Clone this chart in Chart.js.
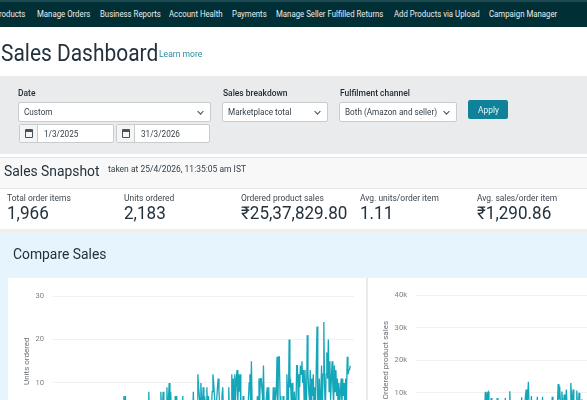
<!DOCTYPE html>
<html><head><meta charset="utf-8">
<script src="https://cdn.jsdelivr.net/npm/chart.js@4"></script>
<style>
html,body{margin:0;padding:0;width:587px;height:400px;overflow:hidden;background:#fff}
#page{position:relative;width:587px;height:400px;overflow:hidden;font-family:Roboto,"Noto Sans",sans-serif;color:#0f1c26;filter:blur(.35px)}
#page div,#page span{position:absolute;white-space:nowrap;box-sizing:border-box}
#page span{transform-origin:0 50%}
.nav{top:8px;font-size:8.5px;line-height:13px;color:#e8eeee;transform:scaleX(.92)}
.lab{font-size:9px;font-weight:500;color:#1f2a33;top:87px;line-height:12px;transform:scaleX(.94)}
.box{background:#fff;border:1px solid #c8cccc;border-radius:2px;font-size:9.2px;color:#333f48;line-height:18px}
.bt{top:0;transform:scaleX(.89)}
.chev{right:7px;top:6px;width:5px;height:5px;border-right:1.2px solid #444;border-bottom:1.2px solid #444;transform:rotate(45deg) scale(.9);transform-origin:50% 50% !important}
.ml{top:192px;font-size:9.4px;color:#3d4750;line-height:12px;transform:scaleX(.9)}
.mv{top:203px;font-size:17.6px;color:#24323e;line-height:21px;transform:scaleX(.97)}
.cal{background:#f4f5f5;border-right:1px solid #c8cccc;left:0;top:0;width:18px;height:100%}
.cal i{position:absolute;left:5px;top:4px;width:8px;height:9px;border:1px solid #48525a;border-top-width:3px;border-radius:1px;box-sizing:border-box}
canvas{position:absolute}
</style></head><body>
<div id="page">
<div style="left:0;top:0;width:587px;height:27px;background:#002f36;border-top:2px solid #1d4a50"></div>
<span class="nav" style="left:-6px">Products</span>
<span class="nav" style="left:37px">Manage Orders</span>
<span class="nav" style="left:100px">Business Reports</span>
<span class="nav" style="left:169px">Account Health</span>
<span class="nav" style="left:232px">Payments</span>
<span class="nav" style="left:276px">Manage Seller Fulfilled Returns</span>
<span class="nav" style="left:394px">Add Products via Upload</span>
<span class="nav" style="left:489px">Campaign Manager</span>

<span style="left:1px;top:37px;font-size:23px;line-height:34px;color:#24323e;transform:scaleX(.91)">Sales Dashboard</span>
<span style="left:159px;top:48px;font-size:9px;line-height:13px;color:#2a8a9b;transform:scaleX(.95)">Learn more</span>

<div style="left:0;top:76px;width:587px;height:78px;background:#e9ebed"></div>
<span class="lab" style="left:18px">Date</span>
<span class="lab" style="left:223px">Sales breakdown</span>
<span class="lab" style="left:340px">Fulfilment channel</span>
<div class="box" style="left:18px;top:102px;width:193px;height:20px"><span class="bt" style="left:5px">Custom</span><span class="chev"></span></div>
<div class="box" style="left:222px;top:102px;width:106px;height:20px"><span class="bt" style="left:5px">Marketplace total</span><span class="chev"></span></div>
<div class="box" style="left:339px;top:102px;width:118px;height:20px"><span class="bt" style="left:5px">Both (Amazon and seller)</span><span class="chev"></span></div>
<div class="box" style="left:19px;top:124px;width:95px;height:19px"><div class="cal"><i></i></div><span class="bt" style="left:24px">1/3/2025</span></div>
<div class="box" style="left:116px;top:124px;width:94px;height:19px"><div class="cal"><i></i></div><span class="bt" style="left:24px">31/3/2026</span></div>
<div style="left:468px;top:100px;width:40px;height:19px;background:#0f8299;border-radius:2px"></div>
<span style="left:478px;top:101px;color:#e8f4f6;font-size:9.2px;line-height:17px;transform:scaleX(.92)">Apply</span>

<div style="left:0;top:157px;width:587px;height:32px;background:#f8f8f8;border-top:1px solid #e4e6e6;border-bottom:1px solid #e8e8e8"></div>
<span style="left:4px;top:160px;font-size:14.6px;line-height:22px;color:#24323e;transform:scaleX(.95)">Sales Snapshot</span>
<span style="left:108px;top:163px;font-size:8.8px;line-height:13px;color:#333f48;transform:scaleX(.965)">taken at 25/4/2026, 11:35:05 am IST</span>
<span class="ml" style="left:7px">Total order items</span><span class="mv" style="left:7px">1,966</span>
<span class="ml" style="left:124px">Units ordered</span><span class="mv" style="left:124px">2,183</span>
<span class="ml" style="left:241px">Ordered product sales</span><span class="mv" style="left:241px">₹25,37,829.80</span>
<span class="ml" style="left:360px">Avg. units/order item</span><span class="mv" style="left:360px">1.11</span>
<span class="ml" style="left:477px">Avg. sales/order item</span><span class="mv" style="left:477px">₹1,290.86</span>
<div style="left:0;top:229px;width:587px;height:4px;background:#eef0f0"></div>

<div style="left:0;top:233px;width:587px;height:167px;background:#e6f4fd"></div>
<span style="left:13px;top:244px;font-size:14.6px;line-height:20px;color:#24323e;transform:scaleX(.95)">Compare Sales</span>
<div style="left:8px;top:278px;width:579px;height:122px;background:#fff"></div>
<div style="left:366px;top:278px;width:1.5px;height:122px;background:#e8e9e9"></div>
<canvas id="units" width="357" height="160" style="left:8px;top:280px"></canvas>
<canvas id="sales" width="357" height="160" style="left:367px;top:279px"></canvas>
</div>
<script>
const units = [
0,0,1,0,0,0,2,0,0,1,0,0,0,1,0,0,2,0,0,1,
0,1,0,0,0,1,0,0,2,0,0,0,1,0,0,1,0,0,0,2,
0,0,1,0,0,0,1,0,2,0,0,1,0,0,0,3,0,0,1,0,
0,2,0,0,1,0,0,0,2,0,1,0,0,3,0,0,1,0,2,0,
0,1,0,3,0,0,2,0,1,0,0,3,0,1,7,2,7,1,0,2,
0,3,0,1,2,0,0,3,0,1,0,4,0,2,0,1,3,0,0,2,
1,0,3,0,2,0,1,8,1,0,3,0,2,4,0,1,3,0,5,1,
0,3,1,8,2,4,8,1,3,0,5,9,3,6,10,4,8,3,5,2,
3,1,7,2,7,1,4,0,3,5,1,2,7,0,3,4,1,5,2,0,
3,5,1,4,2,0,8,2,0,3,5,1,12,9,7,5,10,6,3,9,
5,7,4,6,9,3,7,5,2,6,4,8,12,10,7,5,3,6,9,11,
8,5,2,4,7,9,3,1,5,2,6,3,4,9,2,6,3,12,5,11,
4,12,6,11,13,5,12,8,12,3,1,0,7,2,4,1,5,0,3,6,
10,12,4,15,5,1,3,0,6,2,4,7,5,11,6,11,11,11,6,14,
4,0,5,7,9,3,9,1,5,0,6,3,9,4,9,6,8,16,3,16,
16,7,3,1,0,7,1,4,2,6,12,8,4,20,9,10,5,10,4,2,
8,5,3,14,14,6,12,9,14,12,15,10,13,5,13,7,3,21,12,8,
6,13,4,11,7,12,3,9,5,14,23,5,2,11,3,8,14,4,12,24,
9,3,12,17,11,20,8,15,6,11,15,9,5,14,8,13,7,11,4,10,
5,8,11,5,11,7,10,4,11,6,16,12,13,13,14,14];
const sales = [
0,0,1200,0,0,0,2400,0,0,1100,0,0,0,1300,0,0,2200,0,0,1000,
0,1200,0,0,0,1300,0,0,2500,0,0,0,1200,0,0,1100,0,0,0,2400,
0,0,1300,0,0,0,1200,0,2600,0,0,1200,0,0,0,3500,0,0,1300,0,
0,2400,0,0,1200,0,0,0,2500,0,1200,0,0,3600,0,0,1200,0,2400,0,
0,1300,0,3800,0,0,2500,0,1200,0,0,3600,0,10100,10200,3000,10000,10300,1500,0,
2200,8400,1000,0,3000,1200,0,2500,0,8400,1000,0,3200,0,2000,0,1500,3000,0,2000,
8400,1000,0,3000,1500,0,10500,2500,0,3600,0,2000,4000,0,1000,3000,0,5000,1000,0,
2500,4000,8600,1000,3500,0,5000,9000,11000,6000,9000,13400,5000,7000,3000,9000,4000,6000,2000,3000,
5000,2000,4000,8800,1500,3000,0,5000,2000,4000,8800,2000,3000,1000,4500,6000,2000,3000,1000,0,
3000,5500,2000,8800,3000,0,4000,2000,5000,1000,6000,12700,8000,12000,7000,6000,10400,7000,4000,9500,
5000,7000,11000,6000,3000,7500,5000,3000,13000,9000,6000,11000,5000,2500,6500,4000,10700,6000,4500,10000,
5000,7000,3000,8000,4000,6500,2000,5000,3000,7000,4000,6000,2000,5000];
const unitsTicks = [0,10,20,30];
const salesTicks = [0,10000,20000,30000,40000];
const dayLabels = Array.from({length:400},(_,i)=>'d'+i);
const LINE = '#14a6b9';

function draw(id, label, data, tickVals, max, fmt, yWidth){
  new Chart(document.getElementById(id),{
    type:'line',
    data:{labels:dayLabels,datasets:[{label,data,borderColor:LINE,borderWidth:1.3,pointRadius:0,tension:0,fill:false}]},
    options:{
      responsive:false,animation:false,
      layout:{padding:{top:16,bottom:13,left:14,right:11}},
      plugins:{legend:{display:false},tooltip:{enabled:false}},
      scales:{
        x:{display:false,offset:false},
        y:{min:0,max,
          afterFit(s){s.width=yWidth},
          afterBuildTicks(s){s.ticks=tickVals.map(value=>({value}))},
          grid:{color:'#f0f1f1',drawTicks:false},border:{display:false},
          title:{display:true,text:label,color:'#6b7278',font:{size:8,family:'Roboto'},padding:{top:0,bottom:0}},
          ticks:{color:'#7d8388',padding:9,font:{size:7.6,family:'Roboto'},callback:fmt}
        }
      }
    }
  });
}
draw('units','Units ordered',units,unitsTicks,30,v=>String(v),31);
draw('sales','Ordered product sales',sales,salesTicks,40000,v=>v===0?'0':(v/1000)+'k',35);
</script>
</body></html>
